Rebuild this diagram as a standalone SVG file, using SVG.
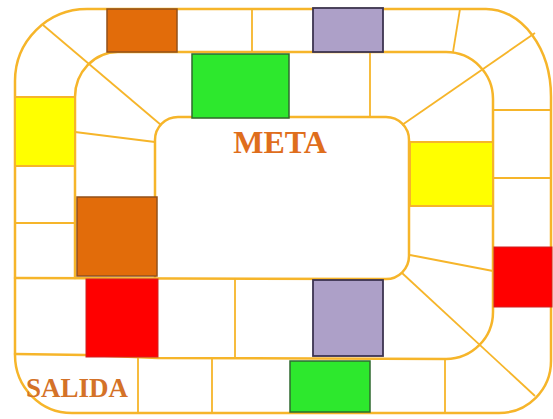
<svg xmlns="http://www.w3.org/2000/svg" width="553" height="419" viewBox="0 0 553 419">
  <style>
    .ln { fill: none; stroke: #F6B52A; stroke-width: 2.5; stroke-linejoin: round; stroke-linecap: round; }
    .dv { fill: none; stroke: #F6B52A; stroke-width: 1.8; }
    .orange { fill: #E26C0A; stroke: #93501A; stroke-width: 1.5; }
    .green { fill: #2DE82D; stroke: #2F6A2F; stroke-width: 1.5; }
    .purple { fill: #ADA0C8; stroke: #3C3350; stroke-width: 1.8; }
    .red { fill: #FF0000; stroke: #D02020; stroke-width: 1; }
    .yellow { fill: #FFFF00; stroke: #F6B52A; stroke-width: 2; }
    .lbl { font-family: "Liberation Serif", "Times New Roman", serif; font-weight: bold; }
  </style>
  <rect x="0" y="0" width="553" height="419" fill="#FFFFFF"/>

  <g id="board">
    <!-- outer boundary -->
    <path class="ln" d="M87,9 L486,9 A65,88 0 0 1 551,97 L551,361 A52,52 0 0 1 499,413 L72,413 A57,58 0 0 1 15,355 L15,81 A72,72 0 0 1 87,9 Z"/>
    <!-- spiral line (middle ring) -->
    <path class="ln" d="M15,354 L86,355 L158,358 L446,359 A47,47 0 0 0 493,312 L493,99 A47,47 0 0 0 446,52 L118,52 A43,45 0 0 0 75,97 L75,278"/>
    <!-- inner box + line -->
    <path class="ln" d="M15,278 L386,279 A23,23 0 0 0 409,256 L409,140 A23,23 0 0 0 386,117 L178,117 A23,23 0 0 0 155,140 L155,278"/>
  </g>

  <g id="dividers">
    <line class="dv" x1="43" y1="25" x2="161" y2="125"/>
    <line class="dv" x1="252" y1="9" x2="252" y2="52"/>
    <line class="dv" x1="460" y1="9" x2="453" y2="52"/>
    <line class="dv" x1="535" y1="33" x2="402" y2="125"/>
    <line class="dv" x1="493" y1="110" x2="551" y2="110"/>
    <line class="dv" x1="493" y1="178" x2="551" y2="178"/>
    <line class="dv" x1="410" y1="255" x2="493" y2="271"/>
    <line class="dv" x1="402" y1="273" x2="535" y2="396"/>
    <line class="dv" x1="445" y1="359" x2="445" y2="413"/>
    <line class="dv" x1="138" y1="357" x2="138" y2="413"/>
    <line class="dv" x1="212" y1="358" x2="212" y2="413"/>
    <line class="dv" x1="235" y1="278" x2="235" y2="358"/>
    <line class="dv" x1="15" y1="223" x2="75" y2="223"/>
    <line class="dv" x1="75" y1="132" x2="155" y2="142"/>
    <line class="dv" x1="370" y1="52" x2="370" y2="117"/>
  </g>

  <g id="squares">
    <rect id="sq-orange-top" class="orange" x="107" y="9" width="70" height="43"/>
    <rect id="sq-purple-top" class="purple" x="313" y="8" width="70" height="44"/>
    <rect id="sq-green-top" class="green" x="192" y="54" width="97" height="64"/>
    <rect id="sq-yellow-left" class="yellow" x="15" y="97" width="60" height="69"/>
    <rect id="sq-orange-left" class="orange" x="77" y="197" width="80" height="79"/>
    <rect id="sq-yellow-right" class="yellow" x="410" y="142" width="83" height="64"/>
    <rect id="sq-red-right" class="red" x="494" y="247" width="58" height="60"/>
    <rect id="sq-red-mid" class="red" x="86" y="279" width="72" height="78"/>
    <rect id="sq-purple-mid" class="purple" x="313" y="280" width="70" height="76"/>
    <rect id="sq-green-bottom" class="green" x="290" y="361" width="80" height="51"/>
  </g>

  <g id="labels">
    <text class="lbl" x="280" y="153" font-size="32" fill="#DF6E1C" text-anchor="middle">META</text>
    <text class="lbl" x="77" y="397" font-size="27" fill="#D47228" text-anchor="middle">SALIDA</text>
  </g>
</svg>
